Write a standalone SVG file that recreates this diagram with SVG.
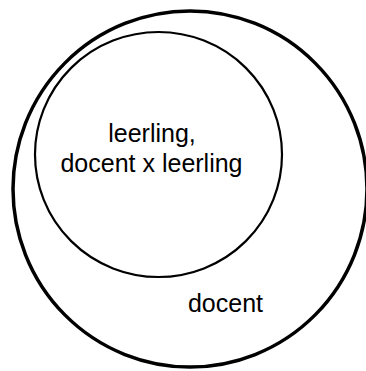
<svg xmlns="http://www.w3.org/2000/svg" width="366" height="371" viewBox="0 0 366 371">
<style>
.t{font-family:"Liberation Sans",Arial,sans-serif;font-size:25px;fill:#000;text-anchor:middle}
</style>
<rect width="366" height="371" fill="#fff"/>
<g id="docent">
<ellipse cx="190" cy="189" rx="177" ry="178" fill="none" stroke="#000" stroke-width="3.5"/>
<text class="t" x="225.5" y="312">docent</text>
</g>
<g id="leerling">
<ellipse cx="158.5" cy="154.5" rx="123.5" ry="122.5" fill="none" stroke="#000" stroke-width="2.2"/>
<text class="t" x="152" y="142">leerling,</text>
<text class="t" x="151.5" y="172">docent x leerling</text>
</g>
<g id="connectors"/>
</svg>
